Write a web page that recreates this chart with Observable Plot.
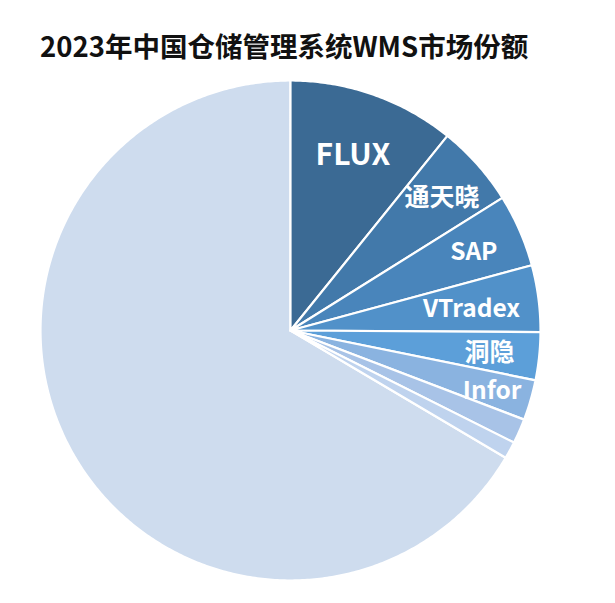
<!DOCTYPE html>
<html>
<head>
<meta charset="utf-8">
<script src="https://cdn.jsdelivr.net/npm/d3@7"></script>
<script src="https://cdn.jsdelivr.net/npm/@observablehq/plot@0.6"></script>
<style>
  body { margin: 0; background: #fff; font-family: "Noto Sans CJK SC", "Noto Sans", sans-serif; }
  #wrap { width: 615px; height: 603px; position: relative; overflow: hidden; }
  #title { height: 80px; position: relative; }
  #title span { position: absolute; left: 40px; top: 32px; font-size: 27.5px; font-weight: 700; line-height: 1; color: #111; white-space: nowrap; }
</style>
</head>
<body>
<div id="wrap">
  <div id="title"><span>2023年中国仓储管理系统WMS市场份额</span></div>
  <div id="chart"></div>
</div>
<script>
// Data (market share, %)
const names = ["FLUX", "通天晓", "SAP", "VTradex", "洞隐", "Infor", "其他A", "其他B", "其他"];
const shares = [10.8, 5.3, 4.7, 4.3, 3.1, 2.6, 1.6, 1.1, 66.5];
const labelled = ["FLUX", "通天晓", "SAP", "VTradex", "洞隐", "Infor"];

// Styles
const colors = ["#3b6a94", "#4279aa", "#4985bb", "#5191c9", "#5c9fd9", "#8ab3e0", "#a8c3e7", "#bfd3ee", "#cedcee"];
const labelRadius = {"FLUX": 0.75, "通天晓": 0.81, "SAP": 0.8, "VTradex": 0.73, "洞隐": 0.8, "Infor": 0.84};
const labelSize = {"FLUX": 30, "通天晓": 25, "SAP": 24.5, "VTradex": 24.5, "洞隐": 25, "Infor": 24.5};

const arcs = d3.pie().sort(null).value(d => d)(shares);
const points = [];
arcs.forEach((a, i) => {
  const name = names[i];
  const order = name === "其他" ? 0 : 1;
  const n = Math.max(4, Math.ceil((a.endAngle - a.startAngle) / 0.01));
  const poly = [[0, 0]];
  for (let k = 0; k <= n; k++) {
    const t = a.startAngle + (a.endAngle - a.startAngle) * k / n;
    poly.push([Math.sin(t), Math.cos(t)]);
  }
  poly.push([0, 0]);
  poly.forEach(([x, y]) => points.push({name, x, y, order}));
});
points.sort((p, q) => p.order - q.order);

const labels = arcs
  .map((a, i) => ({name: names[i], mid: (a.startAngle + a.endAngle) / 2}))
  .filter(d => labelled.includes(d.name))
  .map(d => ({name: d.name, x: Math.sin(d.mid) * labelRadius[d.name], y: Math.cos(d.mid) * labelRadius[d.name], size: labelSize[d.name]}));

const chart = Plot.plot({
  width: 615,
  height: 523,
  marginLeft: 40,
  marginRight: 75,
  marginTop: 0,
  marginBottom: 23,
  x: {domain: [-1, 1], axis: null},
  y: {domain: [-1, 1], axis: null},
  color: {domain: names, range: colors},
  style: {fontFamily: "'Noto Sans CJK SC', 'Noto Sans', sans-serif", background: "white"},
  marks: [
    Plot.line(points, {x: "x", y: "y", z: "name", fill: "name", stroke: "white", strokeWidth: 2.2, strokeLinejoin: "round", curve: "linear"}),
    Plot.text(labels, {x: "x", y: "y", dy: 2, text: "name", fill: "white", fontSize: "size", fontWeight: 700, textAnchor: "middle", style: {letterSpacing: "1px"}})
  ]
});
document.getElementById("chart").appendChild(chart);
</script>
</body>
</html>
